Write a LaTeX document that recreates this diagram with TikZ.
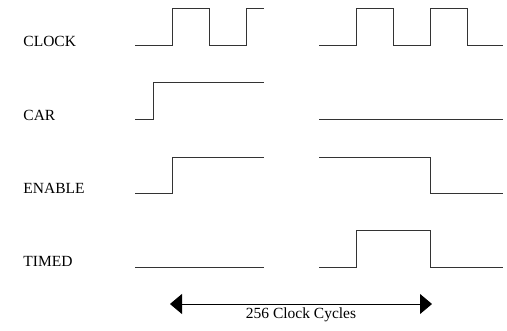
\documentclass[tikz,border=0pt]{standalone}
\usepackage{fontspec}
\setmainfont{Liberation Serif}
\usepackage{tikz}
\usetikzlibrary{arrows.meta}

\begin{document}
\begin{tikzpicture}[x=1pt,y=-1pt,line width=0.9pt,
  wave/.style={draw=black!80,line join=miter},
  signal name/.style={anchor=base west,inner sep=0pt,font=\fontsize{15.5}{18}\selectfont},
  span arrow/.style={{Triangle[length=12pt,width=20pt]}-{Triangle[length=12pt,width=20pt]},draw=black}]
  \useasboundingbox (0,0) rectangle (507,330);

  \node[signal name] (clock) at (23,46) {CLOCK};
  \node[signal name] (car) at (23,120) {CAR};
  \node[signal name] (enable) at (23,193) {ENABLE};
  \node[signal name] (timed) at (23,266) {TIMED};

  % clock
  \draw[wave] (135,45) -- (172,45) -- (172,8) -- (209,8) -- (209,45) -- (246,45) -- (246,8) -- (264,8);
  \draw[wave] (319,45) -- (356,45) -- (356,8) -- (393,8) -- (393,45) -- (430,45) -- (430,8)
    -- (467,8) -- (467,45) -- (503,45);
  % car
  \draw[wave] (135,119) -- (153,119) -- (153,82) -- (264,82);
  \draw[wave] (319,119) -- (503,119);
  % enable
  \draw[wave] (135,193) -- (172,193) -- (172,157) -- (264,157);
  \draw[wave] (319,157) -- (430,157) -- (430,193) -- (503,193);
  % timed
  \draw[wave] (135,267) -- (264,267);
  \draw[wave] (319,267) -- (356,267) -- (356,230) -- (430,230) -- (430,267) -- (503,267);

  \coordinate (start) at (170,304);
  \coordinate (stop) at (432,304);
  \draw[span arrow] (start) -- (stop);
  \node[signal name,anchor=base] (cycles) at (301,318) {256 Clock Cycles};
\end{tikzpicture}
\end{document}
